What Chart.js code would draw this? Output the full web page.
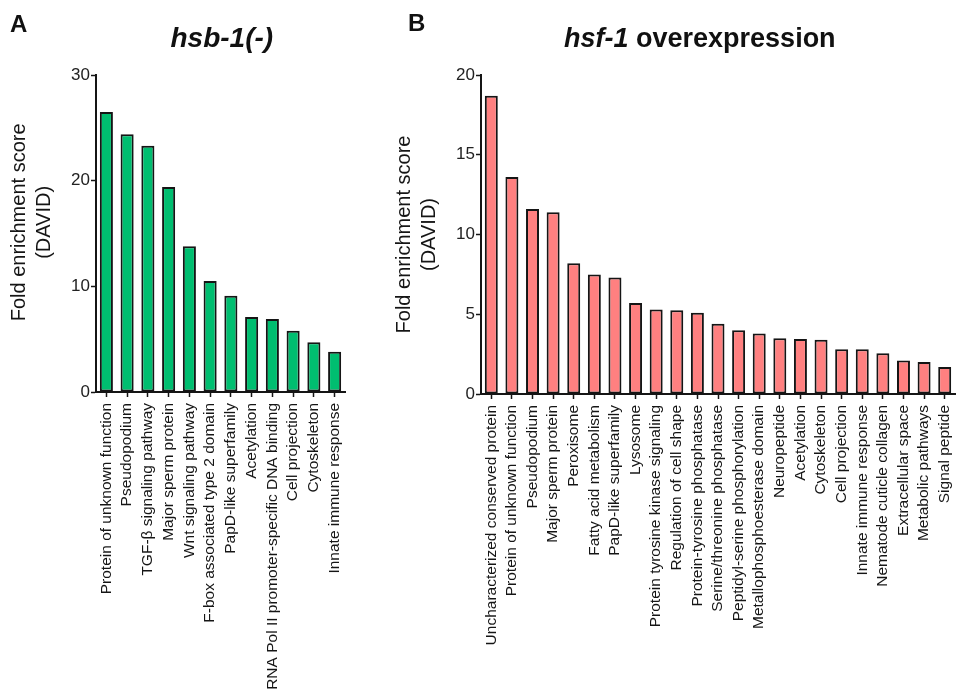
<!DOCTYPE html>
<html>
<head>
<meta charset="utf-8">
<script src="https://cdn.jsdelivr.net/npm/chart.js@4.4.1/dist/chart.umd.min.js"></script>
<style>
  html, body { margin: 0; padding: 0; background: #fff; }
  #wrap { position: relative; width: 957px; height: 697px; overflow: hidden; font-family: "Liberation Sans", Arial, sans-serif; color: #111; }
  canvas { position: absolute; top: 0; }
  .panel { position: absolute; font-weight: bold; font-size: 24px; line-height: 24px; }
  .title { position: absolute; font-weight: bold; font-size: 28px; line-height: 28px; white-space: nowrap; }
</style>
</head>
<body>
<div id="wrap">
  <canvas id="left" width="370" height="697" style="left:0px"></canvas>
  <canvas id="right" width="577" height="697" style="left:380px"></canvas>
  <div class="panel" style="left:10px; top:12px;">A</div>
  <div class="panel" style="left:408px; top:11px;">B</div>
  <div class="title" id="tA" style="top:24px;"><i>hsb-1(-)</i></div>
  <div class="title" id="tB" style="top:24px; font-size:27px;"><i>hsf-1</i> overexpression</div>
</div>
<script>
// ---- data ----
const leftCategories = [
  "Protein of unknown function", "Pseudopodium", "TGF-\u03B2 signaling pathway",
  "Major sperm protein", "Wnt signaling pathway", "F-box associated type 2 domain",
  "PapD-like superfamily", "Acetylation", "RNA Pol II promoter-specific DNA binding",
  "Cell projection", "Cytoskeleton", "Innate immune response"
];
const leftValues = [26.5, 24.4, 23.3, 19.4, 13.8, 10.5, 9.1, 7.1, 6.9, 5.8, 4.7, 3.8];
const leftTicks = [0, 10, 20, 30];

const rightCategories = [
  "Uncharacterized conserved protein", "Protein of unknown function", "Pseudopodium",
  "Major sperm protein", "Peroxisome", "Fatty acid metabolism", "PapD-like superfamily",
  "Lysosome", "Protein tyrosine kinase signaling", "Regulation of cell shape",
  "Protein-tyrosine phosphatase", "Serine/threonine phosphatase",
  "Peptidyl-serine phosphorylation", "Metallophosphoesterase domain", "Neuropeptide",
  "Acetylation", "Cytoskeleton", "Cell projection", "Innate immune response",
  "Nematode cuticle collagen", "Extracellular space", "Metabolic pathways", "Signal peptide"
];
const rightValues = [18.7, 13.6, 11.6, 11.4, 8.2, 7.5, 7.3, 5.7, 5.3, 5.25, 5.1, 4.4, 4.0,
  3.8, 3.5, 3.45, 3.4, 2.8, 2.8, 2.55, 2.1, 2.0, 1.7];
const rightTicks = [0, 5, 10, 15, 20];

const yTitleLeft = ["    Fold enrichment score", "    (DAVID)"];
const yTitleRight = ["Fold enrichment score", "(DAVID)"];

// ---- chart builder ----
Chart.defaults.font.family = '"Liberation Sans", Arial, sans-serif';
Chart.defaults.color = '#111';

function makeChart(id, cats, vals, ticks, color, opts) {
  const ctx = document.getElementById(id).getContext('2d');
  return new Chart(ctx, {
    type: 'bar',
    data: {
      labels: cats,
      datasets: [{
        data: vals,
        backgroundColor: color,
        borderColor: '#151515',
        borderWidth: 2,
        borderSkipped: false,
        barPercentage: 0.63,
        categoryPercentage: 1.0
      }]
    },
    options: {
      responsive: false,
      animation: false,
      devicePixelRatio: 1,
      layout: { padding: { top: 75, right: opts.padRight, bottom: 0, left: 0 } },
      plugins: { legend: { display: false }, tooltip: { enabled: false }, title: { display: false } },
      scales: {
        x: {
          type: 'category',
          offset: true,
          grid: { display: true, drawOnChartArea: false, drawTicks: true, offset: false,
                  tickLength: 5, tickWidth: 1.5, tickColor: '#151515' },
          border: { display: true, color: '#151515', width: 2 },
          ticks: { autoSkip: false, maxRotation: 90, minRotation: 90, padding: 6,
                   font: { size: 15.5 }, color: '#151515' },
          afterFit: (s) => { s.height = opts.xHeight; s.paddingLeft = 0; s.paddingRight = 0; }
        },
        y: {
          min: 0, max: ticks[ticks.length - 1],
          afterBuildTicks: (s) => { s.ticks = ticks.map(v => ({ value: v })); },
          grid: { display: true, drawOnChartArea: false, drawTicks: true,
                  tickLength: 5, tickWidth: 1.5, tickColor: '#151515' },
          border: { display: true, color: '#151515', width: 2 },
          ticks: { padding: 1, font: { size: 17 }, color: '#222' },
          title: { display: true, text: opts.yTitle, font: { size: 20, lineHeight: 1.25 },
                   color: '#151515', padding: { top: opts.titlePad, bottom: 0 } },
          afterFit: (s) => { s.width = opts.yWidth; }
        }
      }
    }
  });
}

makeChart('left', leftCategories, leftValues, leftTicks, 'rgb(0,190,112)',
  { padRight: 25, xHeight: 305, yWidth: 96, titlePad: 7, yTitle: yTitleLeft });
makeChart('right', rightCategories, rightValues, rightTicks, 'rgb(255,128,128)',
  { padRight: 2, xHeight: 303, yWidth: 101, titlePad: 12, yTitle: yTitleRight });

// center titles
function center(id, cx) {
  const el = document.getElementById(id);
  el.style.left = (cx - el.offsetWidth / 2) + 'px';
}
center('tA', 222);
center('tB', 700);
</script>
</body>
</html>
